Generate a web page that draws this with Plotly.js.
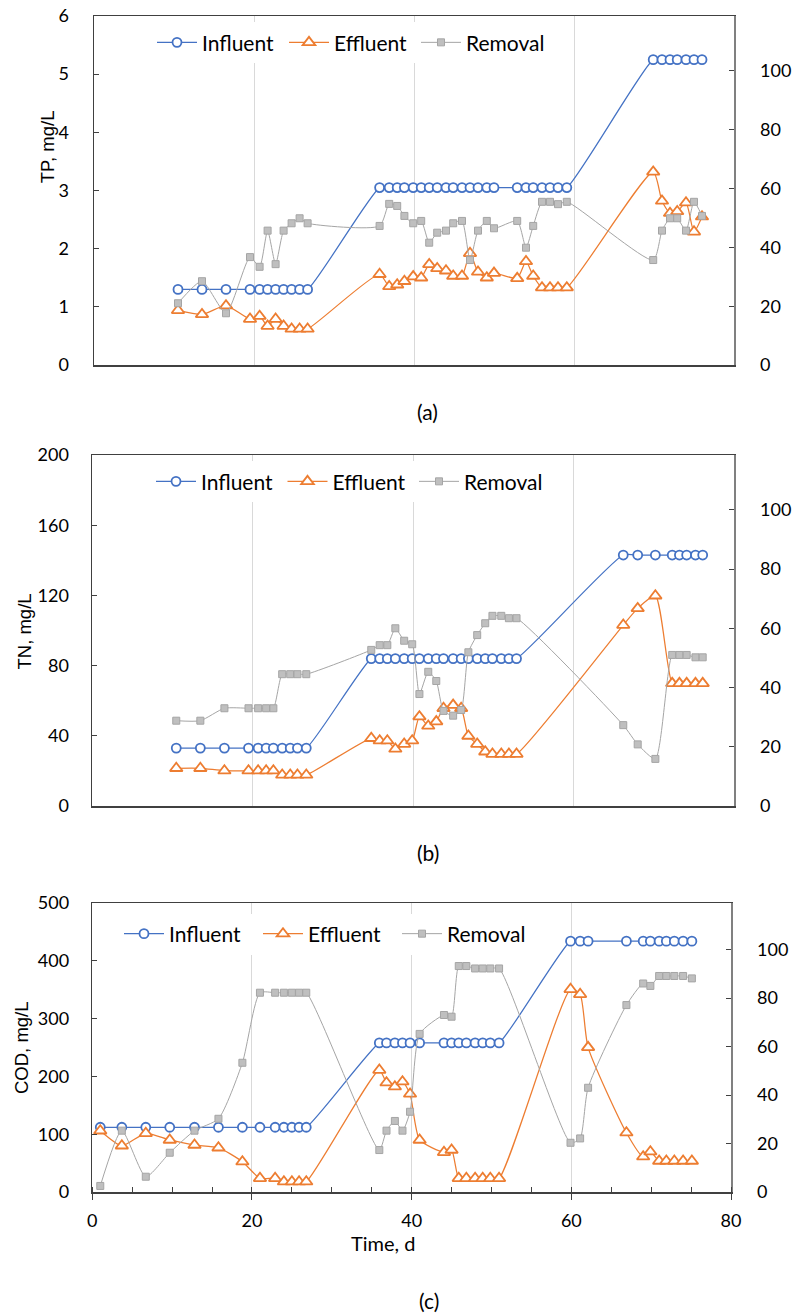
<!DOCTYPE html>
<html>
<head>
<meta charset="utf-8">
<script src="https://cdn.plot.ly/plotly-3.0.1.min.js"></script>
<style>
  html, body { margin: 0; padding: 0; background: #fff; }
  #chart { width: 793px; height: 1313px; }
</style>
</head>
<body>
<div id="chart"></div>
<script>
// ---------------- DATA ----------------
// (a) TP
const tpDays = [10.5, 13.5, 16.5, 19.5, 20.7, 21.7, 22.7, 23.7, 24.7, 25.7, 26.7,
  35.7, 36.9, 37.9, 38.8, 39.9, 40.9, 41.9, 42.9, 44, 44.9, 46, 47, 48, 49.1, 50,
  52.9, 54, 54.9, 56, 57, 58, 59.1,
  69.9, 71, 72, 72.9, 74, 75, 76];
const tpInfluent = [1.3, 1.3, 1.3, 1.3, 1.3, 1.3, 1.3, 1.3, 1.3, 1.3, 1.3,
  3.05, 3.05, 3.05, 3.05, 3.05, 3.05, 3.05, 3.05, 3.05, 3.05, 3.05, 3.05, 3.05, 3.05, 3.05,
  3.05, 3.05, 3.05, 3.05, 3.05, 3.05, 3.05,
  5.25, 5.25, 5.25, 5.25, 5.25, 5.25, 5.25];
const tpEffluent = [0.94, 0.87, 1.02, 0.79, 0.84, 0.67, 0.79, 0.67, 0.62, 0.62, 0.62,
  1.56, 1.35, 1.38, 1.44, 1.52, 1.50, 1.73, 1.66, 1.62, 1.53, 1.53, 1.92, 1.60, 1.50, 1.58,
  1.49, 1.78, 1.53, 1.33, 1.33, 1.33, 1.33,
  3.32, 2.82, 2.61, 2.64, 2.79, 2.29, 2.55];
const tpRemoval = [21.0, 28.5, 17.6, 36.7, 33.4, 45.7, 34.3, 45.7, 48.2, 49.9, 48.2,
  47.3, 54.8, 54.1, 50.7, 48.2, 49.0, 41.6, 45.0, 45.7, 48.2, 49.0, 35.7, 45.7, 49.0, 46.5,
  49.0, 39.9, 47.3, 55.5, 55.5, 54.7, 55.5,
  35.7, 45.7, 49.9, 49.9, 45.7, 55.5, 50.7];

// (b) TN
const tnDays = [10.5, 13.5, 16.5, 19.5, 20.7, 21.7, 22.6, 23.7, 24.7, 25.6, 26.7,
  34.8, 35.85, 36.8, 37.8, 38.9, 39.9, 40.8, 41.9, 42.9, 43.8, 45, 46, 46.9, 48, 49, 49.9, 51, 51.95, 52.9,
  66.2, 68, 70.2, 72.3, 73.2, 74.1, 75.2, 76.1];
const tnInfluent = [33, 33, 33, 33, 33, 33, 33, 33, 33, 33, 33,
  84, 84, 84, 84, 84, 84, 84, 84, 84, 84, 84, 84, 84, 84, 84, 84, 84, 84, 84,
  143, 143, 143, 143, 143, 143, 143, 143];
const tnEffluent = [21.5, 21.5, 20.1, 20.1, 20.1, 20.1, 20.1, 17.7, 17.7, 17.7, 17.7,
  38.6, 37.2, 37.2, 32.5, 35.3, 37.2, 50.9, 45.6, 48.1, 55.7, 57.5, 55.7, 39.9, 35.3, 30.9, 29.6, 29.6, 29.6, 29.6,
  103.1, 112.6, 119.8, 69.9, 69.9, 69.9, 69.9, 69.9];
const tnRemoval = [28.8, 28.8, 33, 33, 33, 33, 33, 44.5, 44.5, 44.5, 44.5,
  52.7, 54.3, 54.3, 60.0, 55.8, 54.6, 37.8, 45.3, 42.2, 32.1, 30.5, 32.4, 51.9, 57.7, 61.7, 64.2, 64.2, 63.4, 63.4,
  27.3, 20.8, 15.9, 51.0, 51.0, 51.0, 50.2, 50.2];

// (c) COD
const codDays = [1, 3.7, 6.7, 9.7, 12.8, 15.8, 18.8, 21, 22.9, 24, 25, 25.9, 26.8,
  35.95, 36.85, 37.9, 38.85, 39.8, 41, 44.05, 45, 45.9, 46.85, 47.95, 48.9, 49.85, 50.95,
  59.9, 61.1, 62.1, 66.9, 69, 69.9, 71, 71.9, 72.9, 74, 75.1];
const codInfluent = [112, 112, 112, 112, 112, 112, 112, 112, 112, 112, 112, 112, 112,
  258, 258, 258, 258, 258, 258, 258, 258, 258, 258, 258, 258, 258, 258,
  434, 434, 434, 434, 434, 434, 434, 434, 434, 434, 434];
const codEffluent = [106, 80, 101.6, 90, 81.3, 76.6, 52.4, 23.7, 23.7, 17.8, 17.8, 17.8, 17.8,
  211, 189.1, 182.2, 190.8, 169.6, 90, 68.7, 72.7, 23.7, 23.7, 23.7, 23.7, 23.7, 23.7,
  350.7, 342, 250.3, 102.6, 61.1, 69.7, 53.6, 53.6, 53.6, 53.6, 53.6];
const codRemoval = [2.5, 25.3, 6.3, 16.2, 25.3, 30.2, 53.3, 82.2, 82.2, 82.2, 82.2, 82.2, 82.2,
  17.3, 25.3, 29.3, 25.3, 33.1, 65.2, 73, 72.3, 93.2, 93.2, 92.2, 92.2, 92.2, 92.2,
  20.3, 22.1, 43, 77.1, 86, 85, 89.1, 89.1, 89.1, 89.1, 88.1];

const seriesNames = ['Influent', 'Effluent', 'Removal'];
const leftTicksTP = [0, 1, 2, 3, 4, 5, 6];
const leftTicksTN = [0, 40, 80, 120, 160, 200];
const leftTicksCOD = [0, 100, 200, 300, 400, 500];
const rightTicks = [0, 20, 40, 60, 80, 100];
const xTicks = [0, 20, 40, 60, 80];

// ---------------- STYLE ----------------
const W = 793, H = 1313;
const BLUE = '#4472C4', ORANGE = '#ED7D31', GREY = '#A5A5A5';
const NUM_FONT = 'Lato, "Open Sans", sans-serif';
const TITLE_FONT = '"Liberation Sans", Arial, sans-serif';
const px = v => v / W;
const py = v => 1 - v / H;

function traces(days, inf, eff, rem, xa, yl, yr, lg) {
  return [
    {x: days, y: inf, name: seriesNames[0], xaxis: xa, yaxis: yl, legend: lg,
     type: 'scatter', mode: 'lines+markers',
     line: {color: BLUE, width: 1.25, shape: 'spline', smoothing: 0.6},
     marker: {symbol: 'circle', size: 9, color: '#fff', line: {color: BLUE, width: 1.8}}},
    {x: days, y: eff, name: seriesNames[1], xaxis: xa, yaxis: yl, legend: lg,
     type: 'scatter', mode: 'lines+markers',
     line: {color: ORANGE, width: 1.25, shape: 'spline', smoothing: 0.6},
     marker: {symbol: 'triangle-up', size: 11, color: '#fff', line: {color: ORANGE, width: 1.8}}},
    {x: days, y: rem, name: seriesNames[2], xaxis: xa, yaxis: yr, legend: lg,
     type: 'scatter', mode: 'lines+markers',
     line: {color: GREY, width: 1, shape: 'spline', smoothing: 0.6},
     marker: {symbol: 'square', size: 7, color: '#BFBFBF', line: {color: '#A5A5A5', width: 1}}}
  ];
}

const data = [].concat(
  traces(tpDays, tpInfluent, tpEffluent, tpRemoval, 'x', 'y', 'y2', 'legend'),
  traces(tnDays, tnInfluent, tnEffluent, tnRemoval, 'x2', 'y3', 'y4', 'legend2'),
  traces(codDays, codInfluent, codEffluent, codRemoval, 'x3', 'y5', 'y6', 'legend3')
);

function xAxis(domain, anchor, showLabels) {
  const ax = {
    domain: domain, anchor: anchor, range: [0, 80], tickvals: xTicks,
    showgrid: true, gridcolor: '#D9D9D9', gridwidth: 1,
    showline: true, linecolor: '#404040', linewidth: 1.5, mirror: true,
    zeroline: false, fixedrange: true,
    showticklabels: showLabels, ticks: showLabels ? 'outside' : '',
    ticklen: 6, tickwidth: 1, tickcolor: '#404040',
    tickfont: {family: NUM_FONT, size: 18, color: '#000'}
  };
  if (showLabels) {
    ax.minor = {ticks: 'inside', ticklen: 5, dtick: 5, tickcolor: '#404040', showgrid: false};
    ax.ticklabelstandoff = 6;
  }
  return ax;
}
function yLeft(domain, anchor, range, tv, standoff) {
  return {
    domain: domain, anchor: anchor, range: range, tickvals: tv,
    showgrid: false, zeroline: false, fixedrange: true,
    showline: true, linecolor: '#404040', linewidth: 1.5,
    ticks: 'inside', ticklen: 5, tickcolor: '#404040',
    ticklabelstandoff: standoff,
    tickfont: {family: NUM_FONT, size: 18, color: '#000'}
  };
}
function yRight(overlay, anchor, range) {
  return {
    overlaying: overlay, anchor: anchor, side: 'right', range: range, tickvals: rightTicks,
    showgrid: false, zeroline: false, fixedrange: true,
    showline: true, linecolor: '#808080', linewidth: 1.5,
    ticks: 'inside', ticklen: 5, tickcolor: '#404040',
    ticklabelstandoff: 21,
    tickfont: {family: NUM_FONT, size: 18, color: '#000'}
  };
}
function legendAt(xPix, yPix, ew) {
  return {
    x: px(xPix), y: py(yPix), xanchor: 'left', yanchor: 'middle',
    orientation: 'h', bgcolor: '#fff', borderwidth: 0,
    font: {family: NUM_FONT, size: 21, color: '#000'},
    itemwidth: 40, entrywidth: ew, traceorder: 'normal'
  };
}

const layout = {
  width: W, height: H,
  margin: {l: 0, r: 0, t: 0, b: 0, pad: 0},
  paper_bgcolor: '#fff', plot_bgcolor: '#fff',
  showlegend: true,
  xaxis: xAxis([px(94), px(734)], 'y', false),
  yaxis: yLeft([py(365), py(16)], 'x', [0, 6], leftTicksTP, 20),
  yaxis2: yRight('y', 'x', [0, 118.7]),
  xaxis2: xAxis([px(92), px(734)], 'y3', false),
  yaxis3: yLeft([py(806), py(455)], 'x2', [0, 200], leftTicksTN, 18),
  yaxis4: yRight('y3', 'x2', [0, 118.5]),
  xaxis3: xAxis([px(92.3), px(731)], 'y5', true),
  yaxis5: yLeft([py(1192), py(903)], 'x3', [0, 500], leftTicksCOD, 18),
  yaxis6: yRight('y5', 'x3', [0, 119.2]),
  legend: legendAt(152, 42.7, 77),
  legend2: legendAt(151, 481.7, 76.5),
  legend3: legendAt(119, 934, 84),
  annotations: [
    {text: 'TP, mg/L', x: px(47.5), y: py(146.7), xref: 'paper', yref: 'paper', textangle: -90,
     showarrow: false, xanchor: 'center', yanchor: 'middle', font: {family: TITLE_FONT, size: 18.5, color: '#000'}},
    {text: 'TN, mg/L', x: px(24.5), y: py(632), xref: 'paper', yref: 'paper', textangle: -90,
     showarrow: false, xanchor: 'center', yanchor: 'middle', font: {family: TITLE_FONT, size: 18.5, color: '#000'}},
    {text: 'COD, mg/L', x: px(21.5), y: py(1047.5), xref: 'paper', yref: 'paper', textangle: -90,
     showarrow: false, xanchor: 'center', yanchor: 'middle', font: {family: TITLE_FONT, size: 18.5, color: '#000'}},
    {text: 'Time, d', x: px(383), y: py(1243), xref: 'paper', yref: 'paper',
     showarrow: false, xanchor: 'center', yanchor: 'middle', font: {family: NUM_FONT, size: 20, color: '#000'}},
    {text: '(a)', x: px(427), y: py(411), xref: 'paper', yref: 'paper',
     showarrow: false, xanchor: 'center', yanchor: 'middle', font: {family: NUM_FONT, size: 21, color: '#000'}},
    {text: '(b)', x: px(428), y: py(852), xref: 'paper', yref: 'paper',
     showarrow: false, xanchor: 'center', yanchor: 'middle', font: {family: NUM_FONT, size: 21, color: '#000'}},
    {text: '(c)', x: px(429), y: py(1300), xref: 'paper', yref: 'paper',
     showarrow: false, xanchor: 'center', yanchor: 'middle', font: {family: NUM_FONT, size: 21, color: '#000'}}
  ]
};

Plotly.newPlot('chart', data, layout, {staticPlot: true, displayModeBar: false});
</script>
</body>
</html>
